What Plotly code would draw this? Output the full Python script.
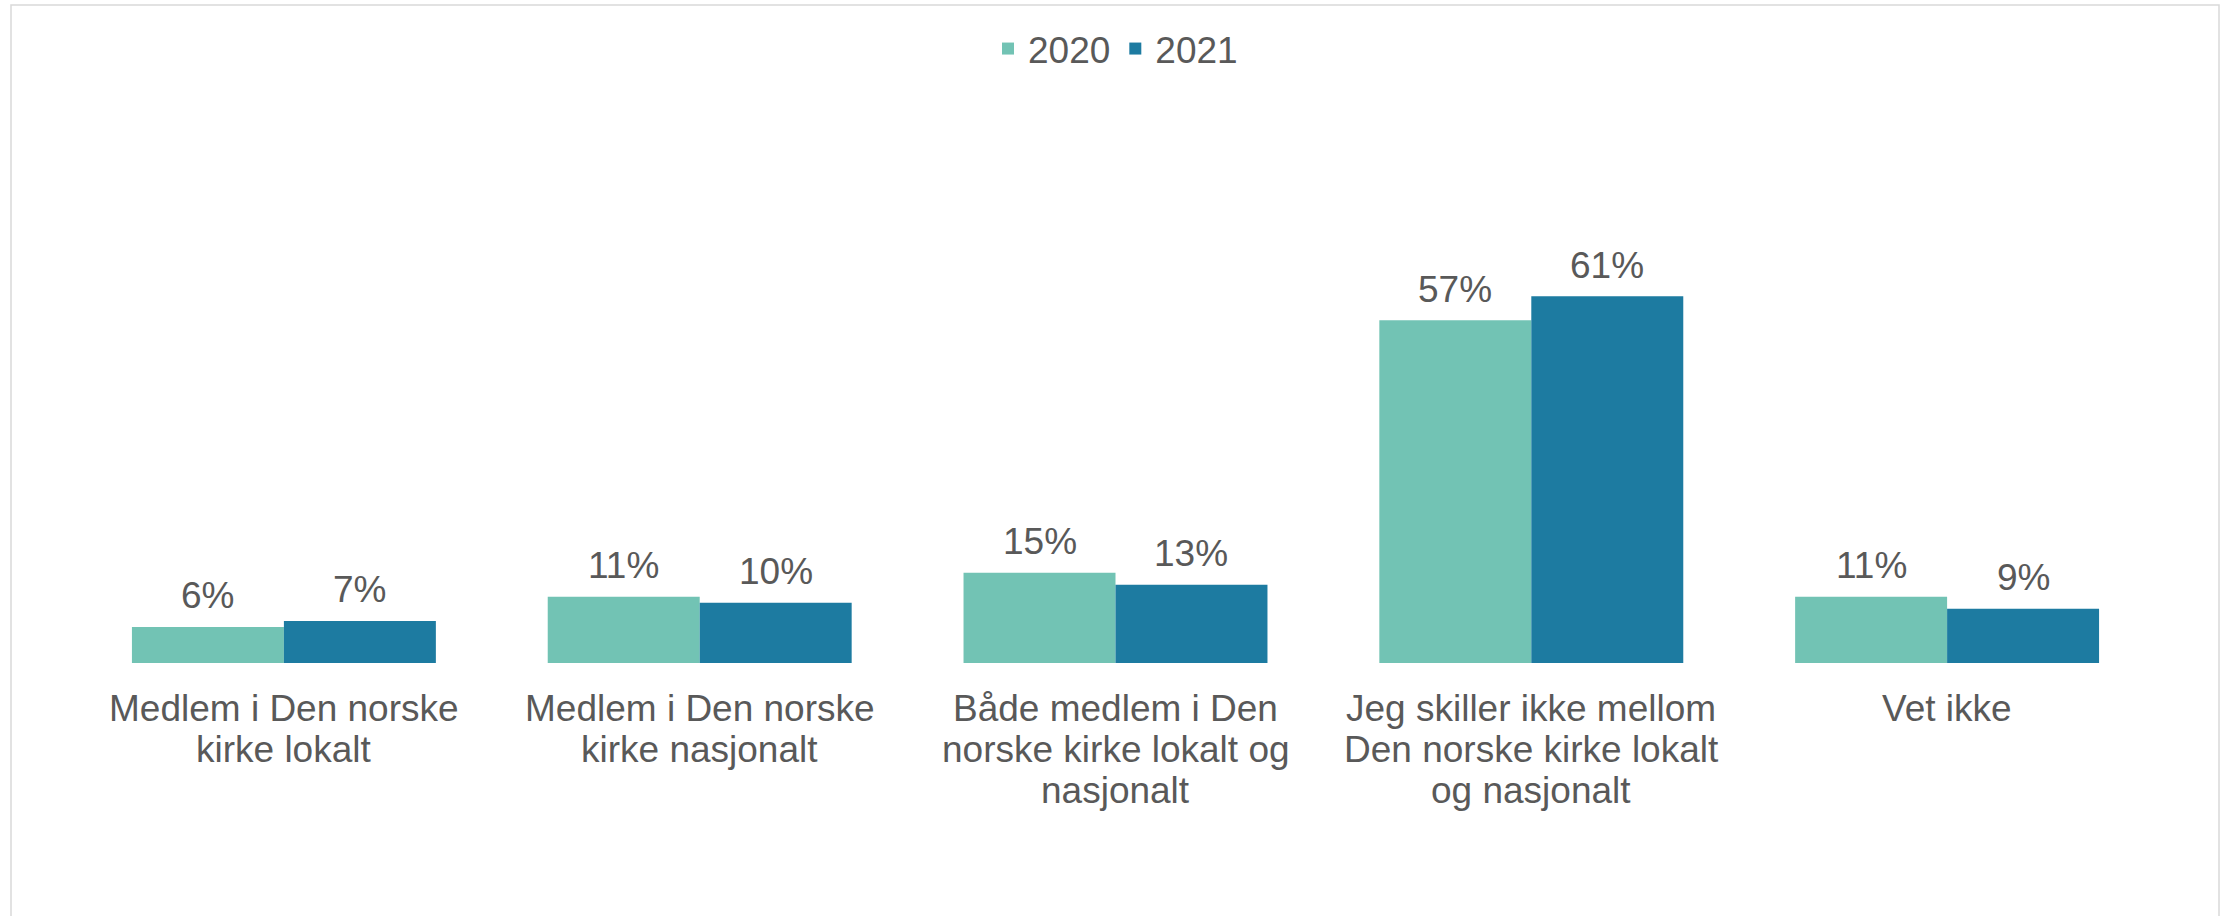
import plotly.graph_objects as go

# ---- data ----
categories = [
    "Medlem i Den norske<br>kirke lokalt",
    "Medlem i Den norske<br>kirke nasjonalt",
    "Både medlem i Den<br>norske kirke lokalt og<br>nasjonalt",
    "Jeg skiller ikke mellom<br>Den norske kirke lokalt<br>og nasjonalt",
    "Vet ikke",
]
series_names = ["2020", "2021"]
values_2020 = [6, 11, 15, 57, 11]
values_2021 = [7, 10, 13, 61, 9]
colors = ["#72C3B4", "#1D7BA1"]

# ---- layout constants ----
W, H = 2231, 916
ML, MR, MT, MB = 76, 76, 242, 253
BARGAP = 0.269
Y_MAX = 70
FONT = "Liberation Sans, Arial, sans-serif"
TXT = "#595959"
FS = 37

fig = go.Figure()
for name, vals, col in zip(series_names, [values_2020, values_2021], colors):
    fig.add_trace(go.Bar(
        name=name, x=categories, y=vals,
        marker=dict(color=col, line=dict(width=0)),
        hoverinfo="x+y",
    ))

plot_w = W - ML - MR
cat_w = plot_w / len(categories)
bar_w = (1 - BARGAP) * cat_w / 2

annotations = []
# data labels
for k, vals in enumerate([values_2020, values_2021]):
    shift = (-0.5 if k == 0 else 0.5) * bar_w
    for c, v in zip(categories, vals):
        annotations.append(dict(
            x=c, y=v, xref="x", yref="y", text=f"{v}%",
            showarrow=False, xshift=shift, yshift=31,
            xanchor="center", yanchor="middle",
            font=dict(family=FONT, size=FS, color=TXT),
        ))
# category labels, one annotation per line
for c in categories:
    for i, line in enumerate(c.split("<br>")):
        annotations.append(dict(
            x=c, y=0, xref="x", yref="y", text=line,
            showarrow=False, yshift=-(45 + 41.3 * i),
            xanchor="center", yanchor="middle",
            font=dict(family=FONT, size=FS, color=TXT),
        ))

# chart border (decoration)
px2x = lambda px: (px - ML) / plot_w
px2y = lambda py: (H - MB - py) / (H - MT - MB)
shapes = [dict(
    type="rect", xref="paper", yref="paper",
    x0=px2x(11), x1=px2x(2219), y0=px2y(930), y1=px2y(5),
    line=dict(color="#D9D9D9", width=1.5), fillcolor="rgba(0,0,0,0)", layer="below",
)]

fig.update_layout(
    width=W, height=H,
    margin=dict(l=ML, r=MR, t=MT, b=MB, pad=0),
    barmode="group", bargap=BARGAP, bargroupgap=0,
    paper_bgcolor="white", plot_bgcolor="white",
    font=dict(family=FONT, size=FS, color=TXT),
    xaxis=dict(showticklabels=False, showgrid=False, zeroline=False, showline=False, ticks=""),
    yaxis=dict(range=[0, Y_MAX], visible=False, showgrid=False, zeroline=False),
    legend=dict(
        orientation="h", x=0.5, xanchor="center",
        yref="container", y=1 - 49 / H, yanchor="middle",
        font=dict(family=FONT, size=FS, color=TXT),
        itemclick=False, tracegroupgap=0,
    ),
    annotations=annotations,
    shapes=shapes,
)

fig.write_html(
    "out.html",
    config={"displayModeBar": False},
    post_script="document.body.style.margin='0';document.body.style.overflow='hidden';",
)
